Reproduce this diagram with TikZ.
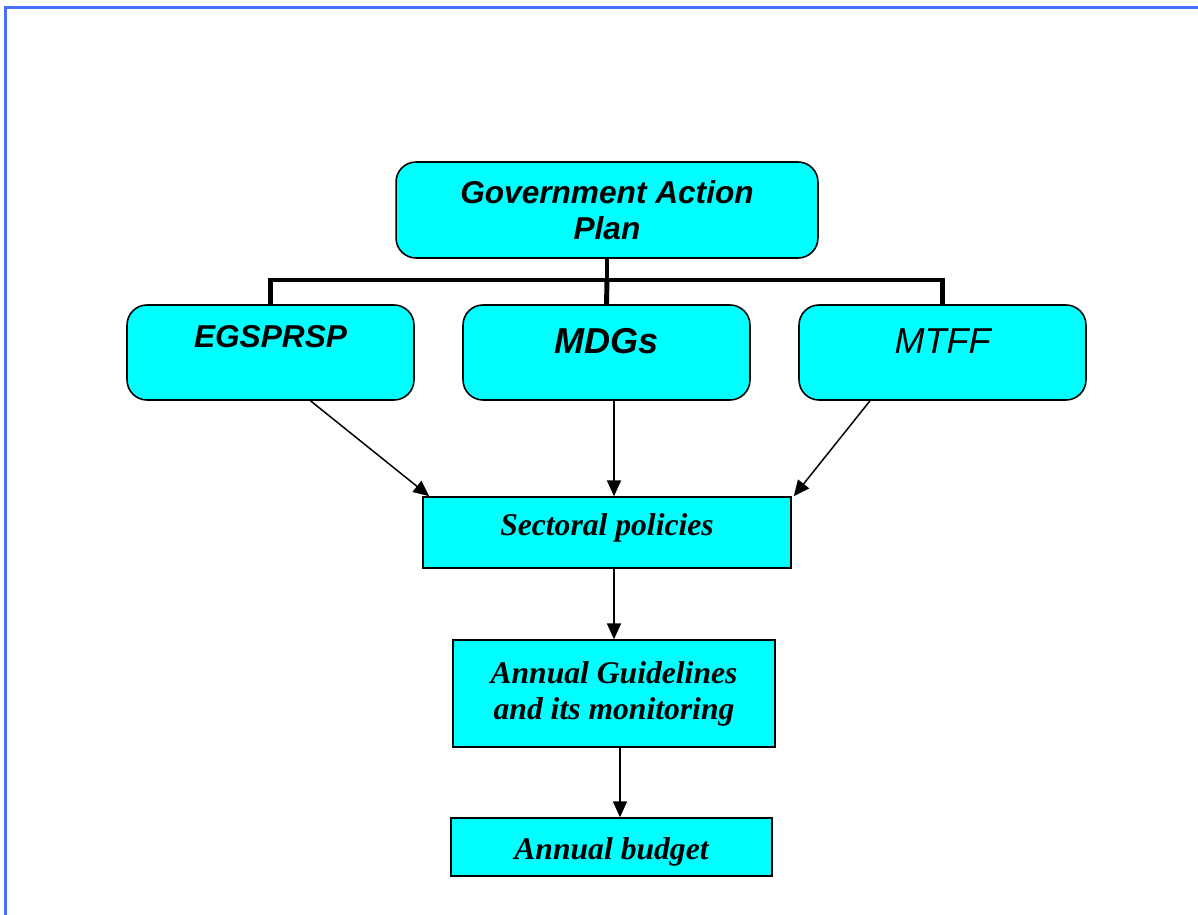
\documentclass[tikz,border=0pt]{standalone}
\usepackage{fontspec}
\setmainfont{Liberation Serif}
\setsansfont{Liberation Sans}
\usetikzlibrary{arrows.meta}

\definecolor{boxcyan}{RGB}{0,255,255}
\definecolor{frameblue}{RGB}{72,112,255}

\tikzset{
  goalbox/.style={draw, fill=boxcyan, rounded corners=0.4cm, line width=0.9pt,
    minimum width=5.74cm, minimum height=1.9cm},
  stagebox/.style={draw, fill=boxcyan, line width=0.9pt, align=center,
    font=\fontsize{18}{20.5}\selectfont\rmfamily\bfseries\itshape},
  busline/.style={line width=2.8pt},
  flow/.style={line width=0.85pt, -{Triangle[length=9pt,width=8pt]}}
}

\begin{document}
\begin{tikzpicture}[x=0.02cm, y=-0.02cm]
\useasboundingbox (0,0) rectangle (1198,915);
\draw [frameblue, line width=1.3pt] (5.5,930) -- (5.5,7.5) -- (1210,7.5);
%
\node [goalbox, minimum width=8.44cm, minimum height=1.92cm, align=center,
  font=\fontsize{18}{20.5}\selectfont\sffamily\bfseries\itshape] (gov) at (607,210)
  {Government Action\\Plan};
%
\node [goalbox] (eg)   at (270.5,352.5) {};
\node [goalbox] (mdg)  at (606.5,352.5) {};
\node [goalbox] (mtff) at (942.5,352.5) {};
\node [font=\fontsize{18}{20}\selectfont\sffamily\bfseries\itshape] (egtext)
  at ([yshift=-0.65cm]eg.north) {EGSPRSP};
\node [font=\fontsize{20.5}{23}\selectfont\sffamily\bfseries\itshape] (mdgtext)
  at ([yshift=-0.74cm]mdg.north) {MDGs};
\node [font=\fontsize{20.5}{23}\selectfont\sffamily\itshape] (mtfftext)
  at ([yshift=-0.74cm]mtff.north) {MTFF};
%
\coordinate (bus) at (607,280);
\draw [busline] (gov.south) -- (bus);
\draw [busline] (eg.north) |- (bus) -| (mtff.north);
\draw [busline] (bus) -- (mdg.north);
%
\node [stagebox, minimum width=7.36cm, minimum height=1.42cm] (sect) at (607,532.5)
  {\raisebox{0.1cm}[\height][\depth]{Sectoral policies}};
\node [stagebox, minimum width=6.44cm, minimum height=2.14cm] (guide) at (614,693.5)
  {Annual Guidelines\\and its monitoring};
\node [stagebox, minimum width=6.42cm, minimum height=1.16cm] (budget) at (611.5,847)
  {\raisebox{-0.09cm}[\height][\depth]{Annual budget}};
%
\draw [flow] ([xshift=0.8cm]eg.south) -- ([xshift=0.14cm]sect.north west);
\draw [flow] ([xshift=0.15cm]mdg.south) -- ([xshift=0.15cm]mdg.south |- sect.north);
\draw [flow] ([xshift=-1.45cm]mtff.south) -- ([xshift=0.04cm]sect.north east);
\draw [flow] (guide.north |- sect.south) -- (guide.north);
\draw [flow] ([xshift=0.12cm]guide.south) -- ([xshift=0.12cm]guide.south |- budget.north);
%%%%%%%%%%%%%%%%%%%%%%%%%%%%%%%
\end{tikzpicture}
\end{document}
